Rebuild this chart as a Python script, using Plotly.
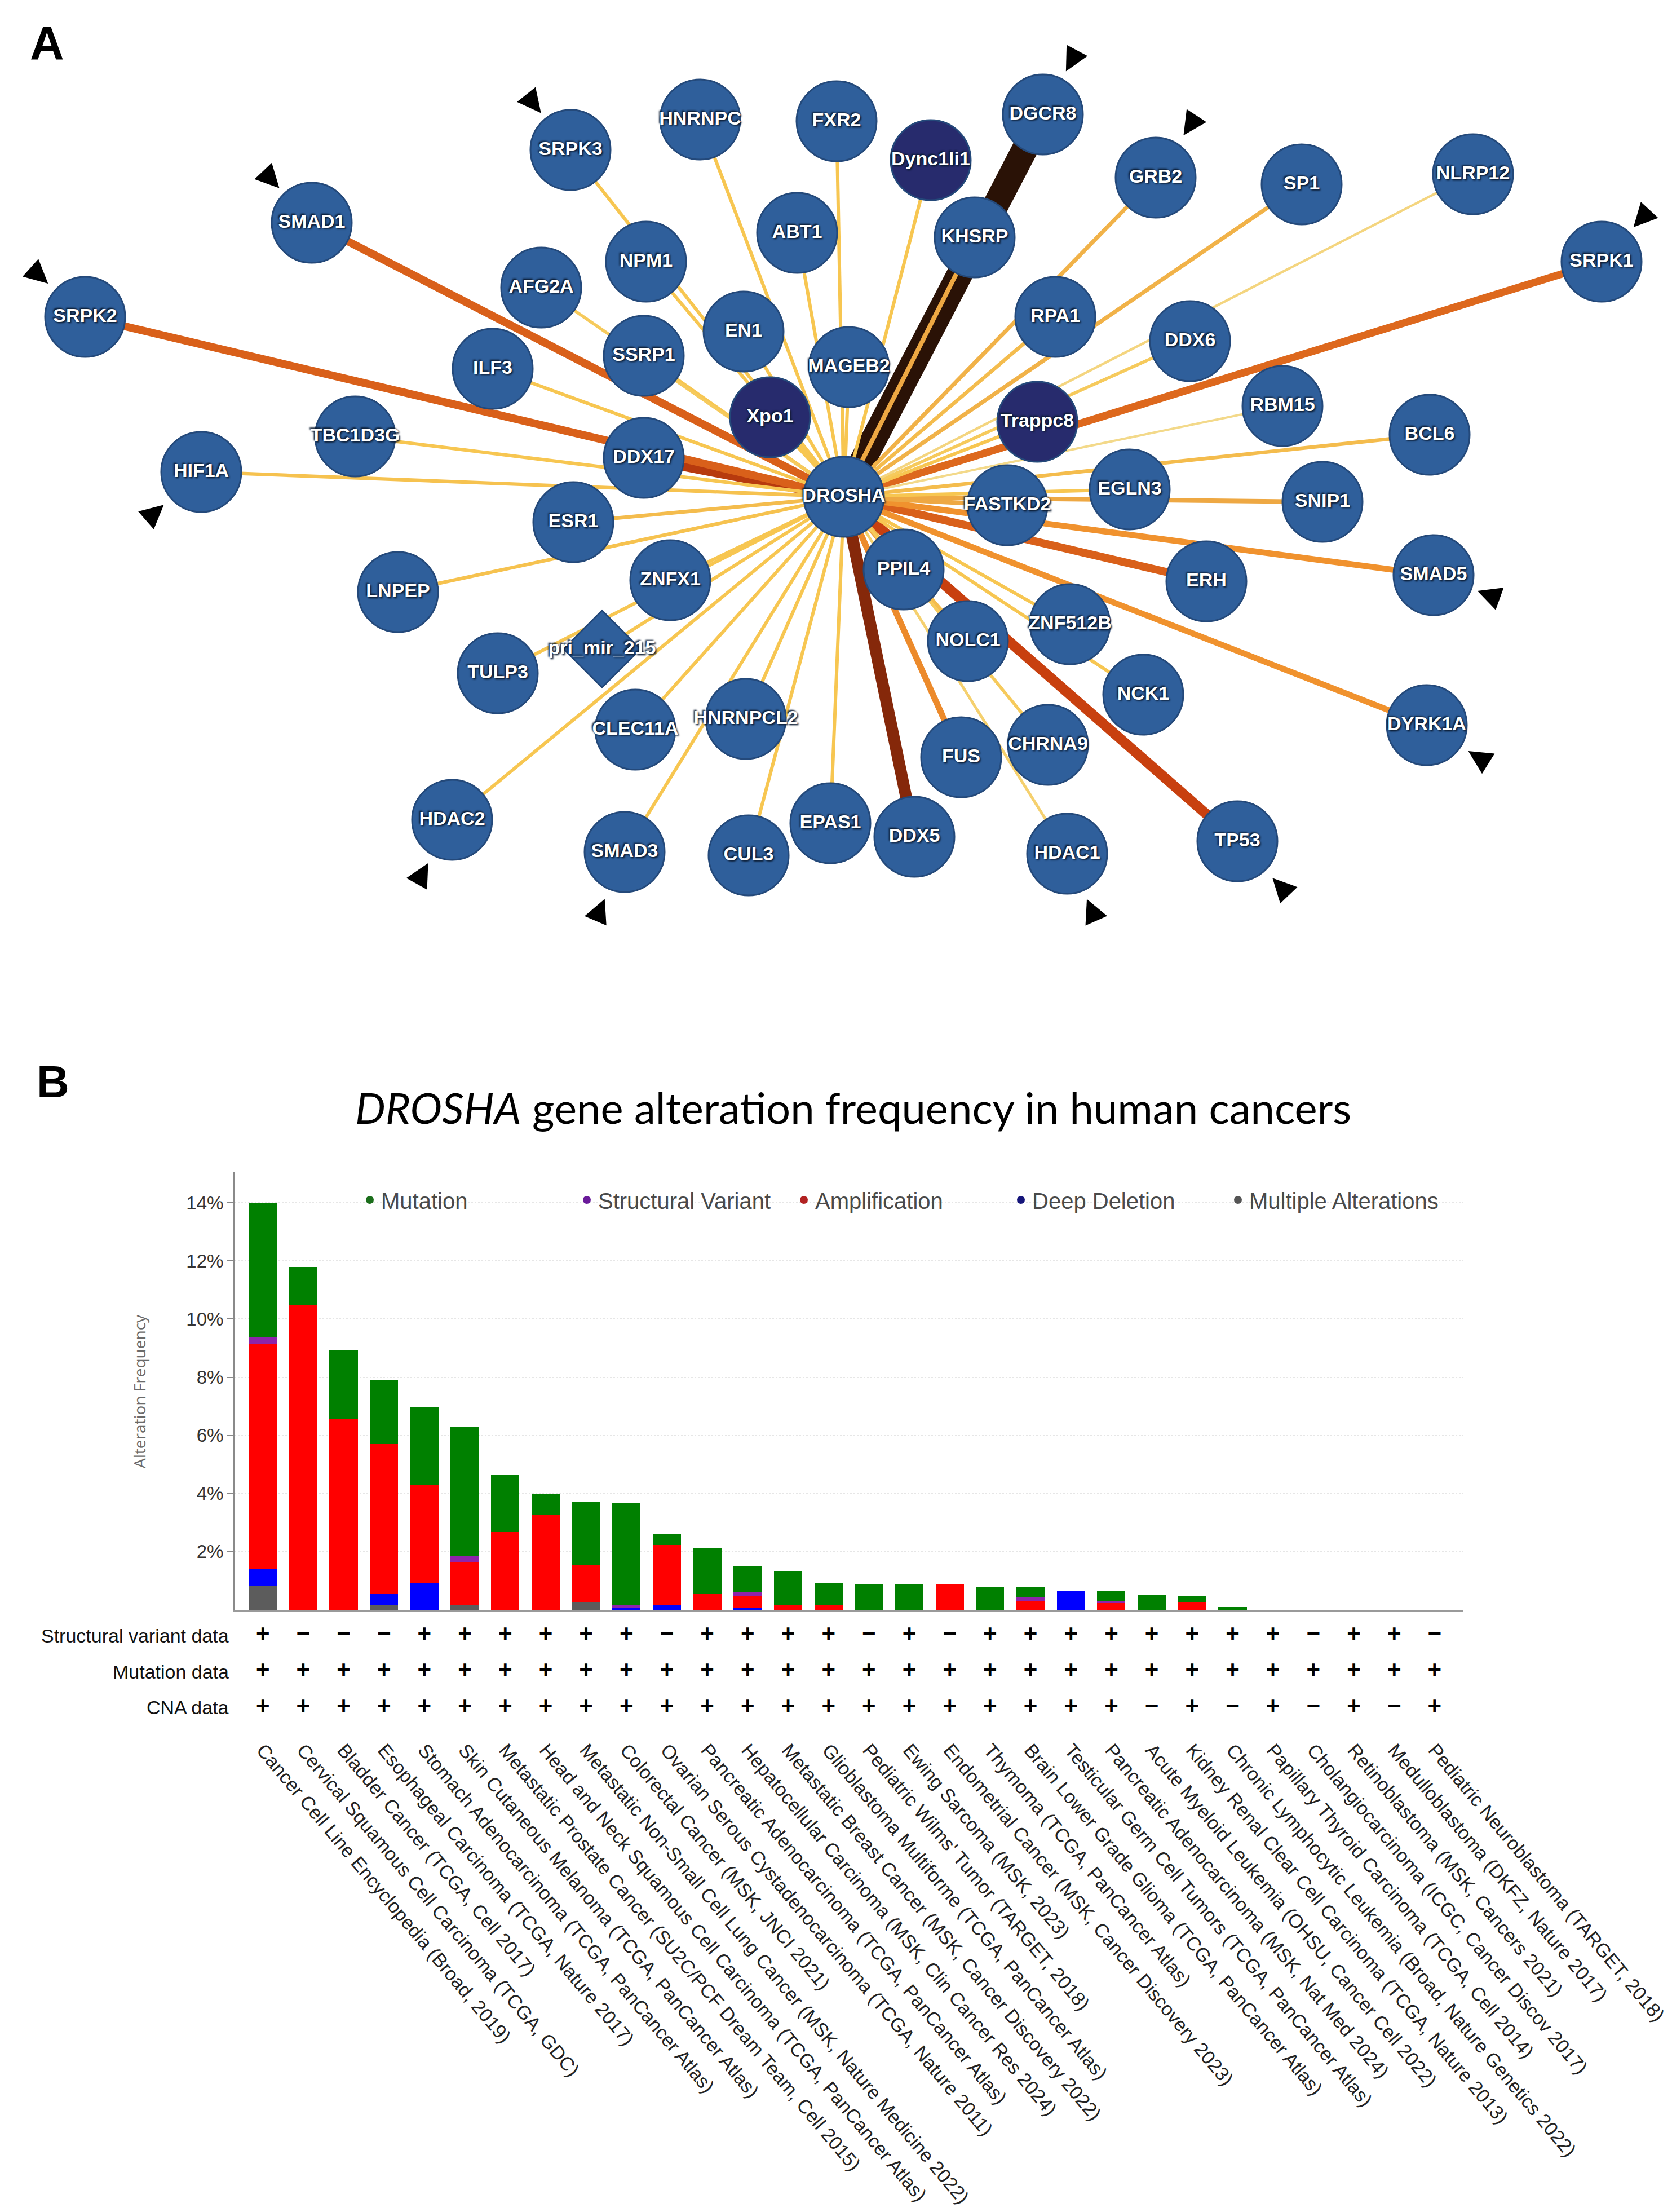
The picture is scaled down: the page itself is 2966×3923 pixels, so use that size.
import math
import numpy as np
import plotly.graph_objects as go
from plotly.colors import sample_colorscale

W, H = 2966, 3923

# ---------------- Panel A: DROSHA interaction network ----------------
hub = "DROSHA"
partners = ["SRPK2", "SMAD1", "SRPK3", "HNRNPC", "FXR2", "Dync1li1", "DGCR8", "KHSRP",
            "ABT1", "NPM1", "AFG2A", "ILF3", "SSRP1", "EN1", "MAGEB2", "Xpo1", "GRB2",
            "SP1", "NLRP12", "SRPK1", "RPA1", "DDX6", "Trappc8", "RBM15", "BCL6",
            "TBC1D3G", "HIF1A", "DDX17", "ESR1", "FASTKD2", "EGLN3", "SNIP1", "LNPEP",
            "ZNFX1", "pri_mir_215", "TULP3", "PPIL4", "ERH", "SMAD5", "ZNF512B", "NOLC1",
            "NCK1", "DYRK1A", "CLEC11A", "HNRNPCL2", "FUS", "CHRNA9", "HDAC2", "SMAD3",
            "CUL3", "EPAS1", "DDX5", "HDAC1", "TP53"]
edge_scores = [0.70, 0.70, 0.30, 0.30, 0.30, 0.30, 1.00, 0.45,
               0.30, 0.30, 0.28, 0.30, 0.30, 0.30, 0.30, 0.30, 0.40,
               0.40, 0.22, 0.68, 0.35, 0.28, 0.30, 0.20, 0.35,
               0.30, 0.32, 0.80, 0.35, 0.45, 0.30, 0.45, 0.32,
               0.30, 0.30, 0.30, 0.50, 0.70, 0.58, 0.30, 0.35,
               0.30, 0.58, 0.30, 0.30, 0.60, 0.28, 0.30, 0.30,
               0.30, 0.30, 0.86, 0.25, 0.78]
dark_nodes = ["Xpo1", "Dync1li1", "Trappc8"]
diamond_nodes = ["pri_mir_215"]
highlighted = ["SRPK3", "SMAD1", "SRPK2", "HIF1A", "HDAC2", "SMAD3", "HDAC1", "TP53",
               "DYRK1A", "SMAD5", "SRPK1", "GRB2", "DGCR8"]

# network layout (panel pixel coordinates)
node_pos = {
    "DROSHA": (1489, 873), "SRPK2": (143, 554), "SMAD1": (545, 387), "SRPK3": (1004, 258),
    "HNRNPC": (1234, 204), "FXR2": (1476, 207), "Dync1li1": (1643, 276), "DGCR8": (1842, 195),
    "KHSRP": (1721, 413), "ABT1": (1406, 405), "NPM1": (1138, 456), "AFG2A": (952, 502),
    "ILF3": (866, 646), "SSRP1": (1134, 623), "EN1": (1311, 580), "MAGEB2": (1498, 643),
    "Xpo1": (1358, 732), "GRB2": (2042, 307), "SP1": (2301, 319), "NLRP12": (2605, 301),
    "SRPK1": (2833, 456), "RPA1": (1864, 554), "DDX6": (2103, 597), "Trappc8": (1832, 740),
    "RBM15": (2267, 712), "BCL6": (2528, 763), "TBC1D3G": (622, 766), "HIF1A": (349, 829),
    "DDX17": (1134, 804), "ESR1": (1009, 918), "FASTKD2": (1779, 888), "EGLN3": (1996, 860),
    "SNIP1": (2338, 882), "LNPEP": (698, 1042), "ZNFX1": (1181, 1021), "pri_mir_215": (1060, 1143),
    "TULP3": (875, 1186), "PPIL4": (1595, 1002), "ERH": (2132, 1023), "SMAD5": (2535, 1012),
    "ZNF512B": (1890, 1099), "NOLC1": (1709, 1129), "NCK1": (2020, 1224), "DYRK1A": (2523, 1278),
    "CLEC11A": (1119, 1286), "HNRNPCL2": (1315, 1267), "FUS": (1697, 1335), "CHRNA9": (1851, 1313),
    "HDAC2": (794, 1446), "SMAD3": (1100, 1503), "CUL3": (1320, 1509), "EPAS1": (1465, 1452),
    "DDX5": (1614, 1476), "HDAC1": (1885, 1506), "TP53": (2187, 1484),
}
# centres of the arrowhead markers
arrow_pos = {
    "SRPK3": (933, 169), "SMAD1": (467, 304), "SRPK2": (55, 475), "HIF1A": (260, 907),
    "HDAC2": (737, 1549), "SMAD3": (1053, 1614), "HDAC1": (1932, 1614), "TP53": (2270, 1571),
    "DYRK1A": (2622, 1340), "SMAD5": (2641, 1050), "SRPK1": (2910, 373), "GRB2": (2108, 207),
    "DGCR8": (1897, 92),
}

# ---------------- Panel B: alteration frequency ----------------
studies = [
    "Cancer Cell Line Encyclopedia (Broad, 2019)",
    "Cervical Squamous Cell Carcinoma (TCGA, GDC)",
    "Bladder Cancer (TCGA, Cell 2017)",
    "Esophageal Carcinoma (TCGA, Nature 2017)",
    "Stomach Adenocarcinoma (TCGA, PanCancer Atlas)",
    "Skin Cutaneous Melanoma (TCGA, PanCancer Atlas)",
    "Metastatic Prostate Cancer (SU2C/PCF Dream Team, Cell 2015)",
    "Head and Neck Squamous Cell Carcinoma (TCGA, PanCancer Atlas)",
    "Metastatic Non-Small Cell Lung Cancer (MSK, Nature Medicine 2022)",
    "Colorectal Cancer (MSK, JNCI 2021)",
    "Ovarian Serous Cystadenocarcinoma (TCGA, Nature 2011)",
    "Pancreatic Adenocarcinoma (TCGA, PanCancer Atlas)",
    "Hepatocellular Carcinoma (MSK, Clin Cancer Res 2024)",
    "Metastatic Breast Cancer (MSK, Cancer Discovery 2022)",
    "Glioblastoma Multiforme (TCGA, PanCancer Atlas)",
    "Pediatric Wilms' Tumor (TARGET, 2018)",
    "Ewing Sarcoma (MSK, 2023)",
    "Endometrial Cancer (MSK, Cancer Discovery 2023)",
    "Thymoma (TCGA, PanCancer Atlas)",
    "Brain Lower Grade Glioma (TCGA, PanCancer Atlas)",
    "Testicular Germ Cell Tumors (TCGA, PanCancer Atlas)",
    "Pancreatic Adenocarcinoma (MSK, Nat Med 2024)",
    "Acute Myeloid Leukemia (OHSU, Cancer Cell 2022)",
    "Kidney Renal Clear Cell Carcinoma (TCGA, Nature 2013)",
    "Chronic Lymphocytic Leukemia (Broad, Nature Genetics 2022)",
    "Papillary Thyroid Carcinoma (TCGA, Cell 2014)",
    "Cholangiocarcinoma (ICGC, Cancer Discov 2017)",
    "Retinoblastoma (MSK, Cancers 2021)",
    "Medulloblastoma (DKFZ, Nature 2017)",
    "Pediatric Neuroblastoma (TARGET, 2018)",
]
multiple_alterations = [0.83, 0, 0, 0.15, 0, 0.15, 0, 0, 0.25, 0, 0, 0, 0, 0, 0,
                        0, 0, 0, 0, 0, 0, 0, 0, 0, 0, 0, 0, 0, 0, 0]
deep_deletion = [0.57, 0, 0, 0.40, 0.91, 0, 0, 0, 0, 0.08, 0.17, 0, 0.08, 0, 0,
                 0, 0, 0, 0, 0, 0.66, 0, 0, 0, 0, 0, 0, 0, 0, 0]
amplification = [7.76, 10.49, 6.55, 5.16, 3.39, 1.50, 2.67, 3.25, 1.28, 0, 2.07, 0.54, 0.40, 0.15, 0.17,
                 0, 0, 0.88, 0, 0.29, 0, 0.23, 0, 0.26, 0, 0, 0, 0, 0, 0]
structural_variant = [0.21, 0, 0, 0, 0, 0.20, 0, 0, 0, 0.10, 0, 0, 0.15, 0, 0,
                      0, 0, 0, 0, 0.13, 0, 0.06, 0, 0, 0, 0, 0, 0, 0, 0]
mutation = [4.63, 1.30, 2.39, 2.20, 2.68, 4.46, 1.97, 0.74, 2.19, 3.50, 0.37, 1.60, 0.86, 1.17, 0.76,
            0.88, 0.88, 0, 0.80, 0.37, 0, 0.36, 0.50, 0.20, 0.10, 0, 0, 0, 0, 0]
sv_data = ["+", "-", "-", "-", "+", "+", "+", "+", "+", "+", "-", "+", "+", "+", "+",
           "-", "+", "-", "+", "+", "+", "+", "+", "+", "+", "+", "-", "+", "+", "-"]
mutation_data = ["+"] * 30
cna_data = ["+", "+", "+", "+", "+", "+", "+", "+", "+", "+", "+", "+", "+", "+", "+",
            "+", "+", "+", "+", "+", "+", "+", "-", "+", "-", "+", "-", "+", "-", "+"]
row_labels = ["Structural variant data", "Mutation data", "CNA data"]
yticks = [2, 4, 6, 8, 10, 12, 14]

fig = go.Figure()

# ---- edges ----
edge_scale = [[0, '#f3d98a'], [0.125, '#f7c651'], [0.3, '#eeaa45'], [0.475, '#f0922e'],
              [0.625, '#d9601a'], [0.725, '#c8400f'], [0.8125, '#8c2a0a'], [1, '#2a1206']]
order = np.argsort(edge_scores)[::-1]
hx, hy = node_pos[hub]
for i in order:
    p = partners[i]
    s = edge_scores[i]
    t = (s - 0.2) / 0.8
    col = sample_colorscale(edge_scale, [t])[0]
    wdt = float(np.interp(s, [0.2, 0.3, 0.45, 0.6, 0.7, 0.8, 0.86, 1.0],
                          [4, 6, 8, 11, 14, 19, 21, 46]))
    px_, py_ = node_pos[p]
    fig.add_trace(go.Scatter(x=[hx, px_], y=[hy, py_], mode='lines',
                             line=dict(color=col, width=wdt),
                             hoverinfo='skip', showlegend=False, xaxis='x', yaxis='y'))

# ---- nodes ----
label_font = dict(family='Liberation Sans', size=34, color='white', weight='bold',
                  shadow='2px 2px 3px #0a1a30, -2px -2px 3px #0a1a30')
circ = [hub] + [p for p in partners if p not in diamond_nodes]
fig.add_trace(go.Scatter(
    x=[node_pos[n][0] for n in circ], y=[node_pos[n][1] for n in circ],
    mode='markers+text', text=circ, textposition='middle center',
    textfont=label_font,
    marker=dict(symbol='circle', size=142,
                color=['#272b6d' if n in dark_nodes else '#2f5f9b' for n in circ],
                line=dict(color='#24497a', width=3)),
    hoverinfo='skip', showlegend=False, xaxis='x', yaxis='y'))
fig.add_trace(go.Scatter(
    x=[node_pos[n][0] for n in diamond_nodes], y=[node_pos[n][1] for n in diamond_nodes],
    mode='markers+text', text=diamond_nodes, textposition='middle center',
    textfont=label_font,
    marker=dict(symbol='diamond', size=105, color='#2f5f9b', line=dict(color='#24497a', width=3)),
    hoverinfo='skip', showlegend=False, xaxis='x', yaxis='y'))

# ---- arrowheads (tip points toward the highlighted node) ----
angles, tips_x, tips_y = [], [], []
for g in highlighted:
    ax_, ay_ = arrow_pos[g]
    nx_, ny_ = node_pos[g]
    dx, dy = nx_ - ax_, ny_ - ay_
    d = math.hypot(dx, dy)
    tips_x.append(ax_ + 30 * dx / d)
    tips_y.append(ay_ + 30 * dy / d)
    angles.append(math.degrees(math.atan2(dx, -dy)))
fig.add_trace(go.Scatter(
    x=tips_x, y=tips_y, mode='markers',
    marker=dict(symbol='arrow-up', size=42, color='black', angle=angles, line=dict(width=0)),
    hoverinfo='skip', showlegend=False, xaxis='x', yaxis='y'))

# ---- bars ----
xi = list(range(len(studies)))
series = [("Multiple Alterations", multiple_alterations, '#5c5c5c', '#555555'),
          ("Deep Deletion", deep_deletion, '#0000ff', '#15157a'),
          ("Amplification", amplification, '#ff0000', '#b22222'),
          ("Structural Variant", structural_variant, '#8e24aa', '#6a1b9a'),
          ("Mutation", mutation, '#008000', '#1b6e1b')]
for name, vals, col, _ in series:
    fig.add_trace(go.Bar(x=xi, y=vals, marker=dict(color=col, line=dict(width=0)),
                         width=0.7, showlegend=False, name=name, hoverinfo='skip',
                         xaxis='x2', yaxis='y2'))
for name in ["Mutation", "Structural Variant", "Amplification", "Deep Deletion", "Multiple Alterations"]:
    lc = [s[3] for s in series if s[0] == name][0]
    fig.add_trace(go.Scatter(x=[None], y=[None], mode='markers', name=name,
                             marker=dict(symbol='circle', size=14, color=lc),
                             showlegend=True, xaxis='x2', yaxis='y2'))

# ---- +/- rows ----
rx, ry, rt = [], [], []
for r, row in enumerate([sv_data, mutation_data, cna_data]):
    for j, v in enumerate(row):
        rx.append(j)
        ry.append(r)
        rt.append('+' if v == '+' else '\u2212')
fig.add_trace(go.Scatter(x=rx, y=ry, mode='text', text=rt,
                         textfont=dict(family='Liberation Sans', size=42, color='black', weight='bold'),
                         hoverinfo='skip', showlegend=False, xaxis='x3', yaxis='y3'))

annotations = [
    dict(text='<b>A</b>', x=75 / W, y=1 - 69 / H, xref='paper', yref='paper', showarrow=False,
         font=dict(family='Liberation Sans', size=84, color='black'), xanchor='center', yanchor='middle'),
    dict(text='<b>B</b>', x=86 / W, y=1 - 1911 / H, xref='paper', yref='paper', showarrow=False,
         font=dict(family='Liberation Sans', size=80, color='black'), xanchor='center', yanchor='middle'),
    dict(text='<i>DROSHA</i> gene alteration frequency in human cancers', x=1505 / W, y=1 - 1955 / H,
         xref='paper', yref='paper', showarrow=False,
         font=dict(family='Lato', size=76, color='black'), xanchor='center', yanchor='middle'),
    dict(text='Alteration Frequency', x=239 / W, y=1 - 2459 / H, xref='paper', yref='paper',
         showarrow=False, textangle=-90, font=dict(family='Open Sans', size=28, color='#6a6a6a'),
         xanchor='center', yanchor='middle'),
]
for r, lab in enumerate(row_labels):
    annotations.append(dict(text=lab, x=400 / W, y=r, xref='paper', yref='y3', showarrow=False,
                            xanchor='right', yanchor='middle',
                            font=dict(family='Liberation Sans', size=34, color='#111')))

xdom = [408 / W, 2587 / W]
fig.update_layout(
    width=W, height=H, autosize=False, template='none',
    margin=dict(l=0, r=0, t=0, b=0, pad=0),
    paper_bgcolor='white', plot_bgcolor='rgba(0,0,0,0)',
    font=dict(family='Liberation Sans', color='#222'),
    barmode='stack',
    xaxis=dict(domain=[0, 1], range=[0, W], visible=False, automargin=False),
    yaxis=dict(domain=[1 - 1700 / H, 1], range=[1700, 0], visible=False, automargin=False),
    xaxis2=dict(domain=xdom, range=[-0.7, 29.7], anchor='y2', showline=True, linecolor='#9a9a9a',
                linewidth=4, showticklabels=False, showgrid=False, zeroline=False, ticks='',
                automargin=False),
    yaxis2=dict(domain=[1 - 2847 / H, 1 - 2070 / H], range=[0, 15.07], anchor='x2',
                tickvals=yticks, ticktext=[f'{v}%' for v in yticks], ticks='outside', ticklen=10,
                tickwidth=2, tickcolor='#888', showline=True, linecolor='#8a8a8a', linewidth=3,
                showgrid=True, gridcolor='#e6e6e6', griddash='dot', gridwidth=2, zeroline=False,
                tickfont=dict(family='Liberation Sans', size=33, color='#333'), automargin=False),
    xaxis3=dict(domain=xdom, range=[-0.7, 29.7], anchor='y3', tickvals=xi, ticktext=studies,
                tickangle=50, showline=False, showgrid=False, zeroline=False, ticks='',
                ticklabelstandoff=16,
                tickfont=dict(family='Liberation Sans', size=34, color='#222'), automargin=False),
    yaxis3=dict(domain=[1 - 3052 / H, 1 - 2861 / H], range=[2.5, -0.5], anchor='x3', visible=False,
                automargin=False),
    legend=dict(orientation='h', x=628 / W, y=1 - 2120 / H, xanchor='left', yanchor='middle',
                font=dict(family='Liberation Sans', size=40, color='#4a4a4a'),
                entrywidth=340, entrywidthmode='pixels', bgcolor='rgba(0,0,0,0)',
                itemsizing='trace', traceorder='normal'),
    annotations=annotations,
)

fig.write_html("out.html")
